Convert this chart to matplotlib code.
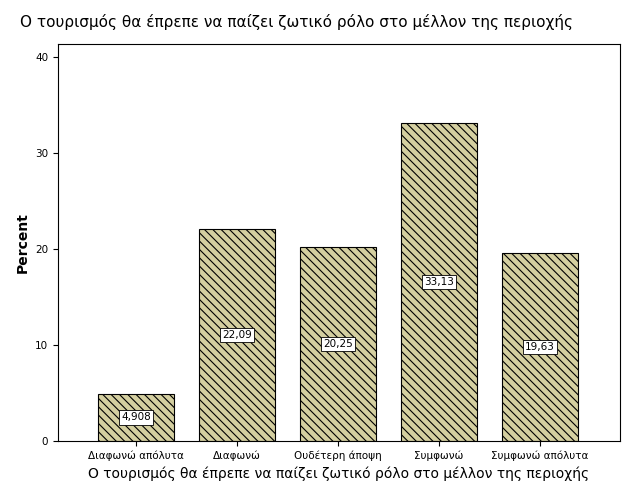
import matplotlib.pyplot as plt
import matplotlib as mpl

categories = ['Διαφωνώ απόλυτα', 'Διαφωνώ', 'Ουδέτερη άποψη', 'Συμφωνώ', 'Συμφωνώ απόλυτα']
values = [4.908, 22.09, 20.25, 33.13, 19.63]
labels = ['4,908', '22,09', '20,25', '33,13', '19,63']
title = 'Ο τουρισμός θα έπρεπε να παίζει ζωτικό ρόλο στο μέλλον της περιοχής'

mpl.rcParams['hatch.linewidth'] = 0.8
fig = plt.figure(figsize=(6.26, 5.01), dpi=100)
ax = fig.add_axes([58/626, 60/501, 562/626, 397/501])
x = range(len(values))
ax.bar(x, values, width=0.75, color='#d4cfa0', edgecolor='black', hatch='\\\\\\\\', linewidth=0.8)
for i, v in enumerate(values):
    ax.text(i, v / 2, labels[i], ha='center', va='center', fontsize=7.5,
            bbox=dict(facecolor='white', edgecolor='black', linewidth=0.6, pad=1.5))
ax.set_xlim(-0.77, 4.79)
ax.set_ylim(0, 41.4)
ax.set_yticks([0, 10, 20, 30, 40])
ax.set_xticks(list(x))
ax.set_xticklabels(categories, fontsize=7.5)
ax.tick_params(axis='y', labelsize=7.5)
ax.set_ylabel('Percent', fontsize=10, fontweight='bold')
ax.set_xlabel(title, fontsize=10)
fig.text(20/626, 1 - 22/501, title, fontsize=11, va='center')
fig.savefig('out.png')
